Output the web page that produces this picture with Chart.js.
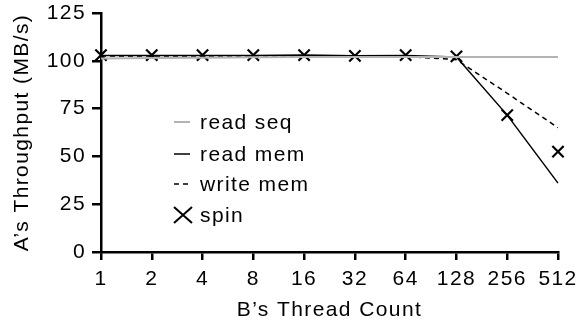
<!DOCTYPE html>
<html>
<head>
<meta charset="utf-8">
<script src="https://cdn.jsdelivr.net/npm/chart.js@4/dist/chart.umd.min.js"></script>
<style>
  html, body { margin: 0; padding: 0; background: #fff; }
  #wrap { width: 579px; height: 327px; }
</style>
</head>
<body>
<div id="wrap"><canvas id="thrChart" width="579" height="327"></canvas></div>
<script>
var threadCounts = ["1", "2", "4", "8", "16", "32", "64", "128", "256", "512"];
var readSeq  = [101.2, 101.4, 101.6, 101.8, 102, 102, 102, 102, 102, 102];
var readMem  = [102.8, 102.8, 102.8, 102.8, 103, 102.6, 102.8, 102, 71.6, 36];
var writeMem = [102.5, 102.5, 102.5, 102.5, 102.5, 102.3, 102.3, 100.6, 83, 65];
var spin     = [103, 103, 103, 103, 103, 102.6, 103, 102.3, 71.6, 52.5];
var yTicks   = [0, 25, 50, 75, 100, 125];

var font = "'Liberation Sans', Arial, sans-serif";
var fsize = 21;

// the original text is a bit wide, so add some letter spacing
var wideText = {
	id: 'wideText',
	beforeDraw: function(chart){
		chart.ctx.letterSpacing = '1.4px';
	}
};

// legend drawn inside the plot like the original figure
var innerLegend = {
	id: 'innerLegend',
	afterDraw: function(chart){
		var ctx = chart.ctx;
		var rows = [122, 154, 184, 215];
		ctx.save();
		ctx.font = fsize + 'px ' + font;
		ctx.fillStyle = '#000';
		ctx.textBaseline = 'middle';
		chart.data.datasets.forEach(function(ds, i){
			var y = rows[i];
			ctx.beginPath();
			if (i == 3) {
				ctx.strokeStyle = '#000';
				ctx.lineWidth = 2;
				ctx.moveTo(174, y - 8); ctx.lineTo(192, y + 8);
				ctx.moveTo(192, y - 8); ctx.lineTo(174, y + 8);
			} else {
				ctx.strokeStyle = ds.borderColor;
				ctx.lineWidth = ds.borderWidth;
				ctx.setLineDash(ds.borderDash || []);
				ctx.moveTo(174, y); ctx.lineTo(190, y);
			}
			ctx.stroke();
			ctx.setLineDash([]);
			ctx.fillText(ds.label, 200, y + 1);
		});
		ctx.restore();
	}
};

new Chart(document.getElementById('thrChart'), {
	type: 'line',
	data: {
		labels: threadCounts,
		datasets: [
			{label: 'read seq', data: readSeq, borderColor: '#b3b3b3', borderWidth: 2, pointRadius: 0, tension: 0},
			{label: 'read mem', data: readMem, borderColor: '#000', borderWidth: 1.5, pointRadius: 0, tension: 0},
			{label: 'write mem', data: writeMem, borderColor: '#000', borderWidth: 1.5, borderDash: [5, 4], pointRadius: 0, tension: 0},
			{label: 'spin', data: spin, showLine: false, pointStyle: 'crossRot', pointRadius: 8,
				pointBorderWidth: 2.2, pointBorderColor: '#000', borderColor: '#000', backgroundColor: '#000'}
		]
	},
	options: {
		responsive: false,
		animation: false,
		layout: {padding: {top: 13, right: 21, left: 0, bottom: 0}},
		plugins: {legend: {display: false}, tooltip: {enabled: false}},
		scales: {
			x: {
				offset: false,
				grid: {display: true, drawOnChartArea: false, color: '#000', lineWidth: 2.5, tickLength: 8},
				border: {display: true, color: '#000', width: 2.5},
				ticks: {color: '#000', font: {family: font, size: fsize}, padding: 7, maxRotation: 0},
				title: {display: true, text: 'B’s Thread Count', color: '#000', font: {family: font, size: fsize}},
				afterFit: function(s){ s.height = 75; s.paddingLeft = 0; s.paddingRight = 0; }
			},
			y: {
				min: 0, max: 125,
				afterBuildTicks: function(s){ s.ticks = yTicks.map(function(v){ return {value: v}; }); },
				grid: {display: true, drawOnChartArea: false, color: '#000', lineWidth: 2.5, tickLength: 9},
				border: {display: true, color: '#000', width: 2.5},
				ticks: {color: '#000', font: {family: font, size: fsize}, padding: 6},
				title: {display: true, text: 'A’s Throughput (MB/s)', color: '#000', font: {family: font, size: fsize}, padding: {top: 10, bottom: 4}},
				afterFit: function(s){ s.width = 101; s.paddingTop = 0; s.paddingBottom = 0; }
			}
		}
	},
	plugins: [wideText, innerLegend]
});
</script>
</body>
</html>
